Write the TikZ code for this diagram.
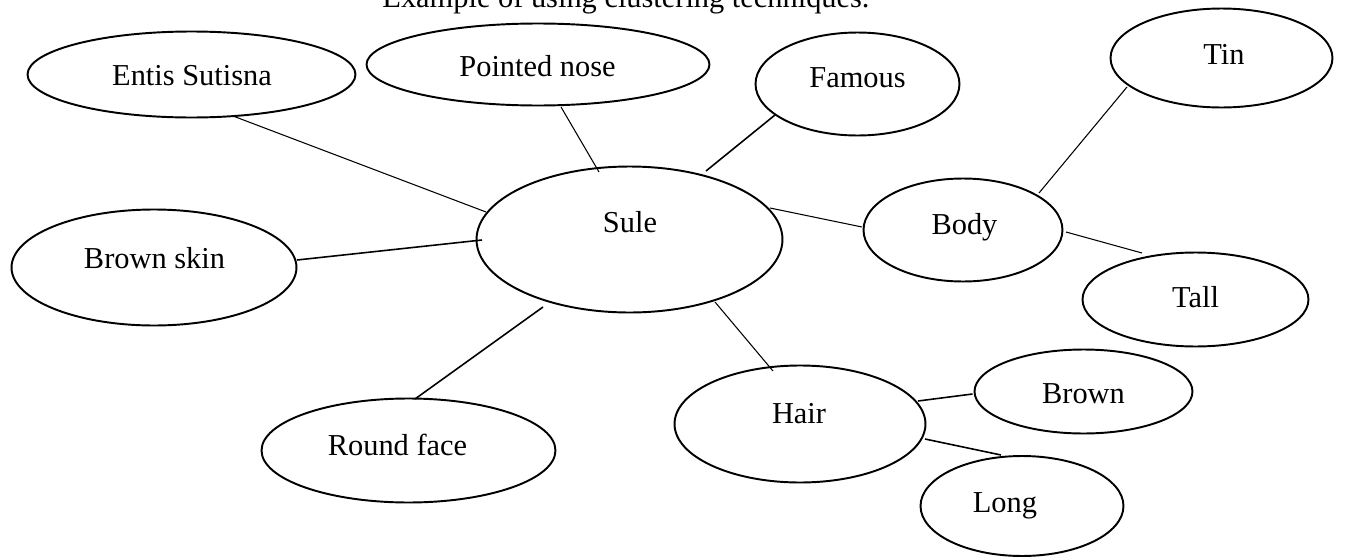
\documentclass[tikz,border=0pt]{standalone}
\usepackage{fontspec}
\setmainfont{Liberation Serif}
\usetikzlibrary{shapes.geometric,calc}
\tikzset{
  ell/.style={draw, ellipse, line width=1.1pt, inner sep=0pt, outer sep=0pt},
  lbl/.style={anchor=base, inner sep=0pt, font=\fontsize{17.3pt}{20pt}\selectfont},
  conn/.style={line width=0.6pt},
  connb/.style={line width=0.9pt}
}
\begin{document}
\begin{tikzpicture}[x=0.02cm, y=-0.02cm]
\useasboundingbox (0,0) rectangle (1347,558);
\clip (0,0) rectangle (1347,558);
% title
\node[lbl] (title) at (626,7.5) {Example of using clustering techniques.};
% ellipses
\node[ell, minimum width=6.56cm, minimum height=1.72cm] (entis) at (191.5,74.5) {};
\node[ell, minimum width=6.86cm, minimum height=1.64cm] (nose) at (538,64.5) {};
\node[ell, minimum width=4.08cm, minimum height=2.06cm] (famous) at (857.5,84) {};
\node[ell, minimum width=4.44cm, minimum height=1.98cm] (tin) at (1221.5,58) {};
\node[ell, minimum width=3.98cm, minimum height=2.06cm] (body) at (963,230) {};
\node[ell, minimum width=4.52cm, minimum height=1.88cm] (tall) at (1195.5,299.5) {};
\node[ell, minimum width=6.12cm, minimum height=2.92cm] (sule) at (629.5,239.5) {};
\node[ell, minimum width=5.70cm, minimum height=2.32cm] (skin) at (154,267.5) {};
\node[ell, minimum width=5.88cm, minimum height=2.08cm] (round) at (408.5,450.5) {};
\node[ell, minimum width=5.02cm, minimum height=2.34cm] (hair) at (800,424) {};
\node[ell, minimum width=4.36cm, minimum height=1.68cm] (brown) at (1083.5,391.5) {};
\node[ell, minimum width=4.06cm, minimum height=2.00cm] (long) at (1022,506) {};
% labels
\node[lbl] (entisT) at (192,85) {Entis Sutisna};
\node[lbl] (noseT) at (537.5,76) {Pointed nose};
\node[lbl] (famousT) at (857.5,87) {Famous};
\node[lbl] (tinT) at (1224,64) {Tin};
\node[lbl] (bodyT) at (964.5,234) {Body};
\node[lbl] (tallT) at (1195.5,307) {Tall};
\node[lbl] (suleT) at (630,232) {Sule};
\node[lbl] (skinT) at (154.5,268) {Brown skin};
\node[lbl] (roundT) at (397.5,455) {Round face};
\node[lbl] (hairT) at (799,423) {Hair};
\node[lbl] (brownT) at (1083.5,403) {Brown};
\node[lbl] (longT) at (1005,512) {Long};
% connectors
\draw[conn] ($(entis)+(41.5,41.5)$) -- ($(sule)+(-143.5,-27.5)$);
\draw[conn] ($(nose)+(23,42.5)$) -- ($(sule)+(-30.5,-67.5)$);
\draw[connb] ($(famous)+(-82.5,31)$) -- ($(sule)+(76.5,-68.5)$);
\draw[connb] ($(skin)+(143,-7.5)$) -- ($(sule)+(-147.5,0.5)$);
\draw[conn] ($(sule)+(140.5,-31.5)$) -- ($(body)+(-101,-3)$);
\draw[connb] ($(sule)+(-86.5,67.5)$) -- ($(round)+(6.5,-51.5)$);
\draw[conn] ($(sule)+(85.5,62.5)$) -- ($(hair)+(-27,-53)$);
\draw[conn] ($(body)+(76,-37)$) -- ($(tin)+(-94.5,29)$);
\draw[conn] ($(body)+(103,2)$) -- ($(tall)+(-53.5,-46.5)$);
\draw[connb] ($(hair)+(118,-23)$) -- ($(brown)+(-111,2.5)$);
\draw[connb] ($(hair)+(125,15)$) -- ($(long)+(-21,-51)$);
\end{tikzpicture}
\end{document}
